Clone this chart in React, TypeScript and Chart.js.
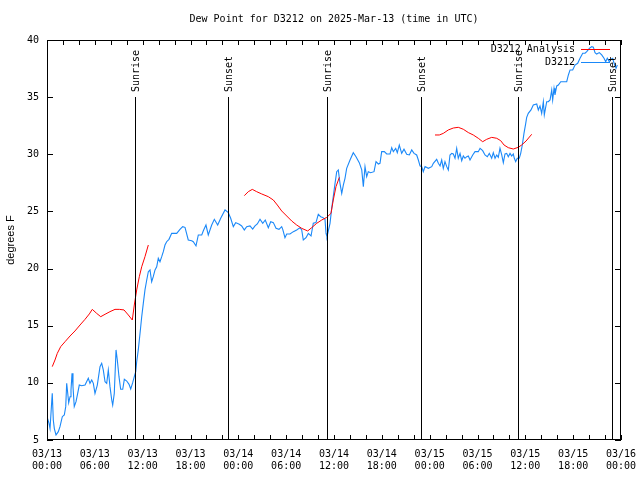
import React, { useEffect, useRef } from "react";
import { Chart, registerables } from "chart.js";

Chart.register(...registerables);

const chartTitle = "Dew Point for D3212 on 2025-Mar-13 (time in UTC)";
const yAxisTitle = "degrees F";
const seriesNames = ["D3212 Analysis", "D3212"];
const xTickDates = ["03/13", "03/13", "03/13", "03/13", "03/14", "03/14", "03/14", "03/14", "03/15", "03/15", "03/15", "03/15", "03/16"];
const xTickTimes = ["00:00", "06:00", "12:00", "18:00", "00:00", "06:00", "12:00", "18:00", "00:00", "06:00", "12:00", "18:00", "00:00"];

// hours since 03/13 00:00 UTC
const eventHours = [11.08, 22.74, 35.16, 46.87, 59.12, 70.9];
const eventLabels = ["Sunrise", "Sunset", "Sunrise", "Sunset", "Sunrise", "Sunset"];

// Observations (blue)
const obsHours = [
  0, 0.25, 0.38, 0.59, 0.66, 0.79, 0.92, 1.13, 1.42, 1.63, 1.92, 2.17, 2.35, 2.47, 2.6, 2.72, 2.89, 3.01, 3.14, 3.26,
  3.42, 3.64, 3.85, 4.05, 4.35, 4.77, 5.18, 5.39, 5.61, 5.81, 6.02, 6.31, 6.65, 6.86, 7.06, 7.28, 7.49, 7.69, 7.9, 8.12,
  8.24, 8.44, 8.66, 8.82, 9.03, 9.24, 9.5, 9.7, 10.0, 10.29, 10.5, 10.75, 10.95, 11.13, 11.25, 11.45, 11.67, 11.88, 12.08, 12.29,
  12.51, 12.71, 12.92, 13.13, 13.33, 13.55, 13.76, 13.96, 14.17, 14.39, 14.59, 14.8, 15.01, 15.3, 15.64, 16.27, 16.68, 17.02, 17.31, 17.72,
  18.15, 18.35, 18.69, 18.98, 19.41, 19.61, 19.94, 20.23, 20.66, 20.99, 21.41, 21.79, 22.33, 22.74, 23.04, 23.37, 23.67, 24.12, 24.42, 24.75,
  25.05, 25.46, 25.8, 26.09, 26.38, 26.72, 27.06, 27.38, 27.76, 28.06, 28.39, 28.73, 29.1, 29.44, 29.57, 29.85, 30.07, 30.48, 30.9, 31.32,
  31.74, 31.95, 32.15, 32.49, 32.78, 33.12, 33.4, 33.74, 34.03, 34.33, 34.58, 34.87, 35.0, 35.12, 35.29, 35.5, 35.71, 35.91, 36.13, 36.34,
  36.54, 36.75, 36.97, 37.17, 37.38, 37.59, 38.01, 38.42, 38.76, 39.17, 39.48, 39.68, 39.89, 40.1, 40.3, 40.6, 41.02, 41.27, 41.56, 41.77,
  41.98, 42.31, 42.61, 43.03, 43.24, 43.44, 43.74, 43.94, 44.19, 44.49, 44.78, 45.12, 45.45, 45.75, 46.04, 46.37, 46.58, 46.79, 47.0, 47.2,
  47.42, 47.83, 48.26, 48.46, 48.88, 49.09, 49.3, 49.51, 49.71, 49.92, 50.14, 50.34, 50.55, 50.77, 50.97, 51.18, 51.39, 51.59, 51.81, 52.02,
  52.22, 52.43, 52.65, 52.85, 53.06, 53.4, 53.69, 54.1, 54.32, 54.65, 54.94, 55.23, 55.48, 55.78, 55.98, 56.2, 56.41, 56.61, 56.82, 57.04,
  57.24, 57.45, 57.66, 57.86, 58.08, 58.29, 58.49, 58.62, 58.79, 58.99, 59.24, 59.42, 59.62, 59.83, 60.05, 60.17, 60.37, 60.71, 61.0, 61.43,
  61.63, 61.84, 62.05, 62.26, 62.38, 62.68, 62.88, 63.1, 63.31, 63.43, 63.6, 63.72, 63.94, 64.14, 64.44, 64.77, 65.19, 65.4, 65.61, 65.94,
  66.23, 66.57, 66.86, 67.2, 67.49, 67.7, 68.03, 68.33, 68.53, 68.74, 68.95, 69.28, 69.58, 69.87, 70.08, 70.28, 70.53, 70.71, 70.96, 71.13,
  71.38, 71.54,
];
const obsValues = [
  7.04, 6.46, 6.0, 8.35, 9.08, 6.75, 6.0, 5.44, 5.73, 6.17, 7.04, 7.19, 7.92, 9.96, 9.09, 8.26, 8.79, 9.37, 10.83, 9.67,
  7.92, 8.35, 9.08, 9.81, 9.75, 9.81, 10.4, 9.96, 10.25, 9.96, 9.08, 9.81, 11.42, 11.71, 11.13, 10.1, 9.96, 11.13, 9.67, 8.5,
  8.06, 9.08, 12.88, 12.0, 10.54, 9.44, 9.44, 10.31, 10.16, 9.87, 9.46, 10.02, 10.54, 10.98, 11.85, 12.88, 14.34, 15.79, 16.96, 18.13,
  19.0, 19.73, 19.88, 18.85, 19.29, 19.88, 20.16, 20.9, 20.6, 21.04, 21.48, 22.06, 22.35, 22.56, 23.08, 23.08, 23.43, 23.67, 23.61, 22.5,
  22.44, 22.35, 21.98, 22.94, 22.94, 23.31, 23.81, 22.94, 23.81, 24.31, 23.81, 24.4, 25.13, 24.89, 24.4, 23.67, 24.02, 23.87, 23.73, 23.38,
  23.67, 23.73, 23.46, 23.73, 23.9, 24.31, 23.96, 24.25, 23.58, 24.1, 24.02, 23.52, 23.43, 23.67, 23.43, 22.7, 23.03, 23.03, 23.23, 23.38,
  23.58, 23.38, 22.5, 22.7, 23.08, 22.85, 23.96, 24.02, 24.75, 24.54, 24.48, 24.31, 23.08, 22.79, 23.29, 23.96, 25.27, 26.29, 27.46, 28.48,
  28.63, 27.46, 26.58, 27.31, 27.9, 28.77, 29.5, 30.14, 29.79, 29.27, 28.63, 27.17, 28.92, 28.04, 28.48, 28.39, 28.48, 29.36, 29.15, 29.21,
  30.23, 30.23, 30.03, 30.03, 30.58, 30.23, 30.52, 30.14, 30.81, 30.08, 30.44, 30.0, 29.94, 30.38, 30.08, 29.94, 29.5, 28.98, 28.92, 28.48,
  28.92, 28.77, 28.92, 29.21, 29.56, 29.21, 28.98, 29.5, 28.77, 29.36, 28.92, 28.63, 29.94, 30.08, 30.03, 29.65, 30.52, 29.65, 30.08, 29.44,
  29.85, 29.65, 29.79, 29.85, 29.5, 29.94, 30.23, 30.23, 30.52, 30.32, 29.94, 29.79, 30.08, 29.65, 30.14, 29.65, 29.94, 29.73, 30.52, 29.94,
  29.27, 30.03, 30.08, 29.79, 30.08, 29.85, 30.03, 29.65, 29.36, 29.65, 29.65, 30.08, 30.81, 31.83, 32.71, 33.23, 33.58, 33.88, 34.31, 34.4,
  33.88, 34.23, 33.58, 34.6, 33.44, 34.6, 34.6, 34.75, 35.63, 34.75, 35.77, 35.19, 35.98, 36.06, 36.35, 36.35, 36.35, 36.94, 37.38, 37.38,
  37.81, 37.96, 38.4, 38.84, 38.84, 38.98, 39.27, 39.42, 39.37, 38.9, 38.77, 38.9, 38.69, 38.4, 38.1, 38.4, 38.1, 38.31, 38.4, 37.96,
  37.52, 37.81,
];

// Analysis (red), null = gap between runs
const anaHours = [
  0.66, 1.0, 1.29, 1.72, 2.26, 2.89, 3.51, 4.14, 4.77, 5.31, 5.68, 6.23, 6.74, 7.28, 7.9, 8.53, 9.07, 9.66, 10.2, 10.7,
  10.95, 11.25, 11.58, 11.88, 12.29, 12.71,
  18.0,
  24.75, 25.25, 25.75, 26.3, 26.93, 27.76, 28.39, 28.89, 29.44, 30.07, 30.7, 31.32, 31.95, 32.7, 33.2, 33.83, 34.46, 35.09, 35.62,
  35.91, 36.25, 36.67,
  42.0,
  48.67, 49.21, 49.71, 50.34, 50.97, 51.59, 52.22, 52.85, 53.47, 54.1, 54.65, 55.15, 55.78, 56.41, 56.91, 57.33, 57.86, 58.49, 59.11, 59.54,
  60.09, 60.8,
];
const anaValues = [
  11.42, 12.0, 12.58, 13.17, 13.6, 14.1, 14.54, 15.06, 15.56, 16.03, 16.43, 16.08, 15.79, 16.0, 16.23, 16.43, 16.43, 16.38, 15.94, 15.5,
  16.81, 18.13, 19.29, 20.16, 21.04, 22.06,
  null,
  26.38, 26.73, 26.93, 26.73, 26.53, 26.29, 26.0, 25.56, 25.04, 24.6, 24.16, 23.81, 23.52, 23.29, 23.58, 23.96, 24.25, 24.48, 24.83,
  26.0, 27.17, 27.98,
  null,
  31.69, 31.69, 31.83, 32.13, 32.3, 32.36, 32.19, 31.9, 31.69, 31.4, 31.1, 31.31, 31.48, 31.4, 31.19, 30.81, 30.58, 30.46, 30.61, 30.81,
  31.16, 31.75,
];

const MONO = '"DejaVu Sans Mono", "Liberation Mono", monospace';
const RED = "#ff0000";
const BLUE = "#1a88f8";

const overlay = {
  id: "gnuplotOverlay",
  afterDatasetsDraw(chart: any) {
    const { ctx, chartArea: a, scales } = chart;
    const xs = scales.x;
    const ys = scales.y;
    ctx.save();
    ctx.strokeStyle = "#000";
    ctx.fillStyle = "#000";
    ctx.lineWidth = 1;

    // event lines
    ctx.beginPath();
    eventHours.forEach((h) => {
      const px = Math.round(xs.getPixelForValue(h)) + 0.5;
      ctx.moveTo(px, a.top + 57);
      ctx.lineTo(px, a.bottom);
    });
    ctx.stroke();
    ctx.font = "10px " + MONO;
    ctx.textAlign = "left";
    ctx.textBaseline = "middle";
    eventHours.forEach((h, i) => {
      const px = Math.round(xs.getPixelForValue(h)) + 0.5;
      ctx.save();
      ctx.translate(px + 1, a.top + 52);
      ctx.rotate(-Math.PI / 2);
      ctx.fillText(eventLabels[i], 0, 0);
      ctx.restore();
    });

    // frame
    ctx.strokeRect(a.left + 0.5, a.top + 0.5, a.right - a.left - 1, a.bottom - a.top - 1);

    // inward ticks
    ctx.beginPath();
    ys.ticks.forEach((t: any) => {
      const py = Math.round(ys.getPixelForValue(t.value)) + 0.5;
      ctx.moveTo(a.left, py);
      ctx.lineTo(a.left + 6, py);
      ctx.moveTo(a.right, py);
      ctx.lineTo(a.right - 6, py);
    });
    xs.ticks.forEach((t: any) => {
      const px = Math.round(xs.getPixelForValue(t.value)) + 0.5;
      ctx.moveTo(px, a.bottom);
      ctx.lineTo(px, a.bottom - 5);
      ctx.moveTo(px, a.top);
      ctx.lineTo(px, a.top + 5);
    });
    ctx.stroke();

    // legend
    ctx.textAlign = "right";
    const colors = [RED, BLUE];
    seriesNames.forEach((name, i) => {
      const y = a.top + 9 + i * 13;
      ctx.fillStyle = "#000";
      ctx.fillText(name, a.right - 46, y);
      ctx.strokeStyle = colors[i];
      ctx.beginPath();
      ctx.moveTo(a.right - 40, Math.round(y) + 0.5);
      ctx.lineTo(a.right - 11, Math.round(y) + 0.5);
      ctx.stroke();
    });
    ctx.restore();
  },
};

export default function App() {
  const ref = useRef<HTMLCanvasElement | null>(null);
  useEffect(() => {
    if (!ref.current) return;
    const chart = new Chart(ref.current, {
      type: "line",
      data: {
        datasets: [
          {
            label: seriesNames[0],
            data: anaHours.map((h, i) => ({ x: h, y: anaValues[i] })),
            borderColor: RED,
            borderWidth: 1,
            pointRadius: 0,
            spanGaps: false,
            tension: 0,
          },
          {
            label: seriesNames[1],
            data: obsHours.map((h, i) => ({ x: h, y: obsValues[i] })),
            borderColor: BLUE,
            borderWidth: 1.1,
            pointRadius: 0,
            tension: 0,
          },
        ],
      },
      options: {
        animation: false,
        responsive: false,
        devicePixelRatio: 1,
        layout: { padding: { left: 0, right: 19, top: 0, bottom: 0 } },
        plugins: {
          legend: { display: false },
          tooltip: { enabled: false },
          title: {
            display: true,
            text: chartTitle,
            color: "#000",
            fullSize: false,
            font: { family: MONO, size: 10, weight: "normal", lineHeight: 1.2 },
            padding: { top: 13, bottom: 15 },
          },
        },
        scales: {
          x: {
            type: "linear",
            min: 0,
            max: 72,
            grid: { display: false, drawTicks: false },
            border: { display: false },
            ticks: {
              stepSize: 2,
              autoSkip: false,
              maxRotation: 0,
              minRotation: 0,
              padding: 8,
              color: "#000",
              font: { family: MONO, size: 10, lineHeight: 1.2 },
              callback: (v: any) => {
                const n = Number(v);
                return n % 6 === 0 ? [xTickDates[n / 6], xTickTimes[n / 6]] : "";
              },
            },
            afterFit: (s: any) => {
              s.height = 40;
              s.paddingLeft = 0;
              s.paddingRight = 0;
            },
          },
          y: {
            type: "linear",
            min: 5,
            max: 40,
            grid: { display: false, drawTicks: false },
            border: { display: false },
            ticks: {
              stepSize: 5,
              padding: 8,
              color: "#000",
              font: { family: MONO, size: 10 },
            },
            title: {
              display: true,
              text: yAxisTitle,
              color: "#000",
              font: { family: '"Liberation Sans", Arial, sans-serif', size: 11 },
            },
            afterFit: (s: any) => {
              s.width = 47;
              s.paddingTop = 0;
              s.paddingBottom = 0;
            },
          },
        },
      },
      plugins: [overlay],
    });
    return () => chart.destroy();
  }, []);
  return (
    <div style={{ position: "fixed", left: 0, top: 0, width: 640, height: 480, background: "#fff" }}>
      <canvas ref={ref} width={640} height={480} />
    </div>
  );
}
